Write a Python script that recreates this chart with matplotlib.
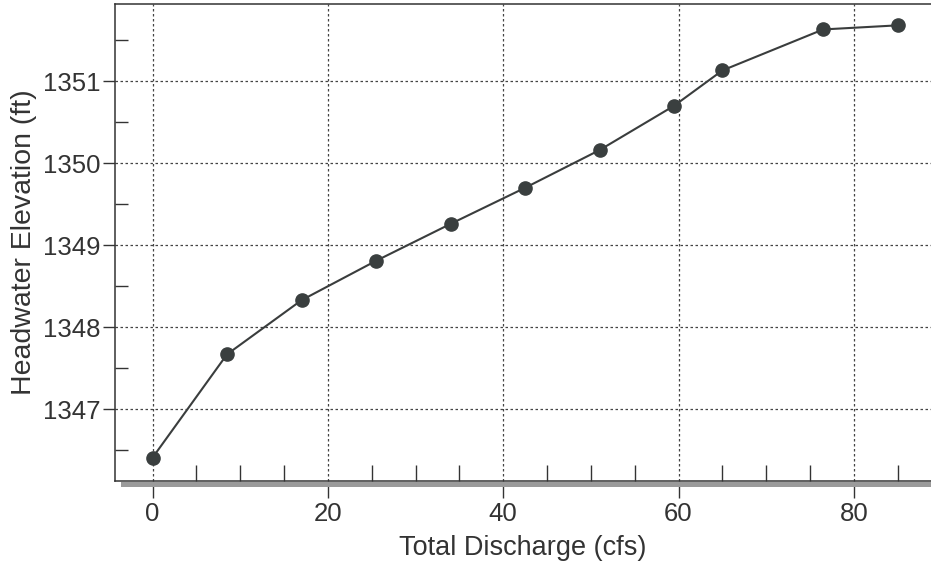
import matplotlib
matplotlib.use('Agg')
import matplotlib.pyplot as plt
from matplotlib.ticker import MultipleLocator
from matplotlib.patches import Rectangle

# rating curve
discharge = [0, 8.5, 17, 25.5, 34, 42.5, 51, 59.5, 65, 76.5, 85]
elevation = [1346.41, 1347.67, 1348.33, 1348.81, 1349.26, 1349.70,
             1350.16, 1350.70, 1351.13, 1351.63, 1351.68]

x_ticks = [0, 20, 40, 60, 80]
y_ticks = [1347, 1348, 1349, 1350, 1351]

plt.rcParams['font.family'] = ['Liberation Sans', 'DejaVu Sans']
ink = '#333333'

fig = plt.figure(figsize=(9.31, 5.65), dpi=100)
ax = fig.add_axes([0.1235, 0.1492, 0.8765, 0.8437])

ax.plot(discharge, elevation, color='#3a3d3d', lw=1.5, marker='o',
        markersize=9.5, markerfacecolor='#3a3f3f', markeredgecolor='#3a3f3f',
        zorder=3)

ax.set_xlim(-4.28, 88.8)
ax.set_ylim(1346.13, 1351.94)

ax.set_xticks(x_ticks)
ax.set_yticks(y_ticks)
ax.xaxis.set_minor_locator(MultipleLocator(5))
ax.yaxis.set_minor_locator(MultipleLocator(0.5))

ax.tick_params(axis='x', which='major', direction='out', length=12.5,
               width=1, color=ink, labelsize=18.5, labelcolor=ink, pad=3)
ax.tick_params(axis='x', which='minor', direction='in', length=11.5,
               width=1, color=ink)
ax.tick_params(axis='y', which='major', direction='out', length=8.6,
               width=1, color=ink, labelsize=18.5, labelcolor=ink, pad=2)
ax.tick_params(axis='y', which='minor', direction='in', length=9.4,
               width=1, color=ink)

ax.grid(True, which='major', color='#444444', linestyle=(0, (2, 2)), lw=0.9)

for side in ['left', 'top', 'bottom']:
    ax.spines[side].set_color(ink)
    ax.spines[side].set_linewidth(1.1)
ax.spines['right'].set_visible(False)

ax.set_xlabel('Total Discharge (cfs)', fontsize=19.5, color=ink, labelpad=6)
ax.set_ylabel('Headwater Elevation (ft)', fontsize=20.5, color=ink, labelpad=4)

# gray shadow band under the bottom axis
fig.patches.append(Rectangle((121 / 931, 1 - 487 / 565), 1 - 121 / 931,
                             5 / 565, transform=fig.transFigure,
                             facecolor='#9a9a9a', edgecolor='none', zorder=0))

fig.savefig('out.png', dpi=100)
